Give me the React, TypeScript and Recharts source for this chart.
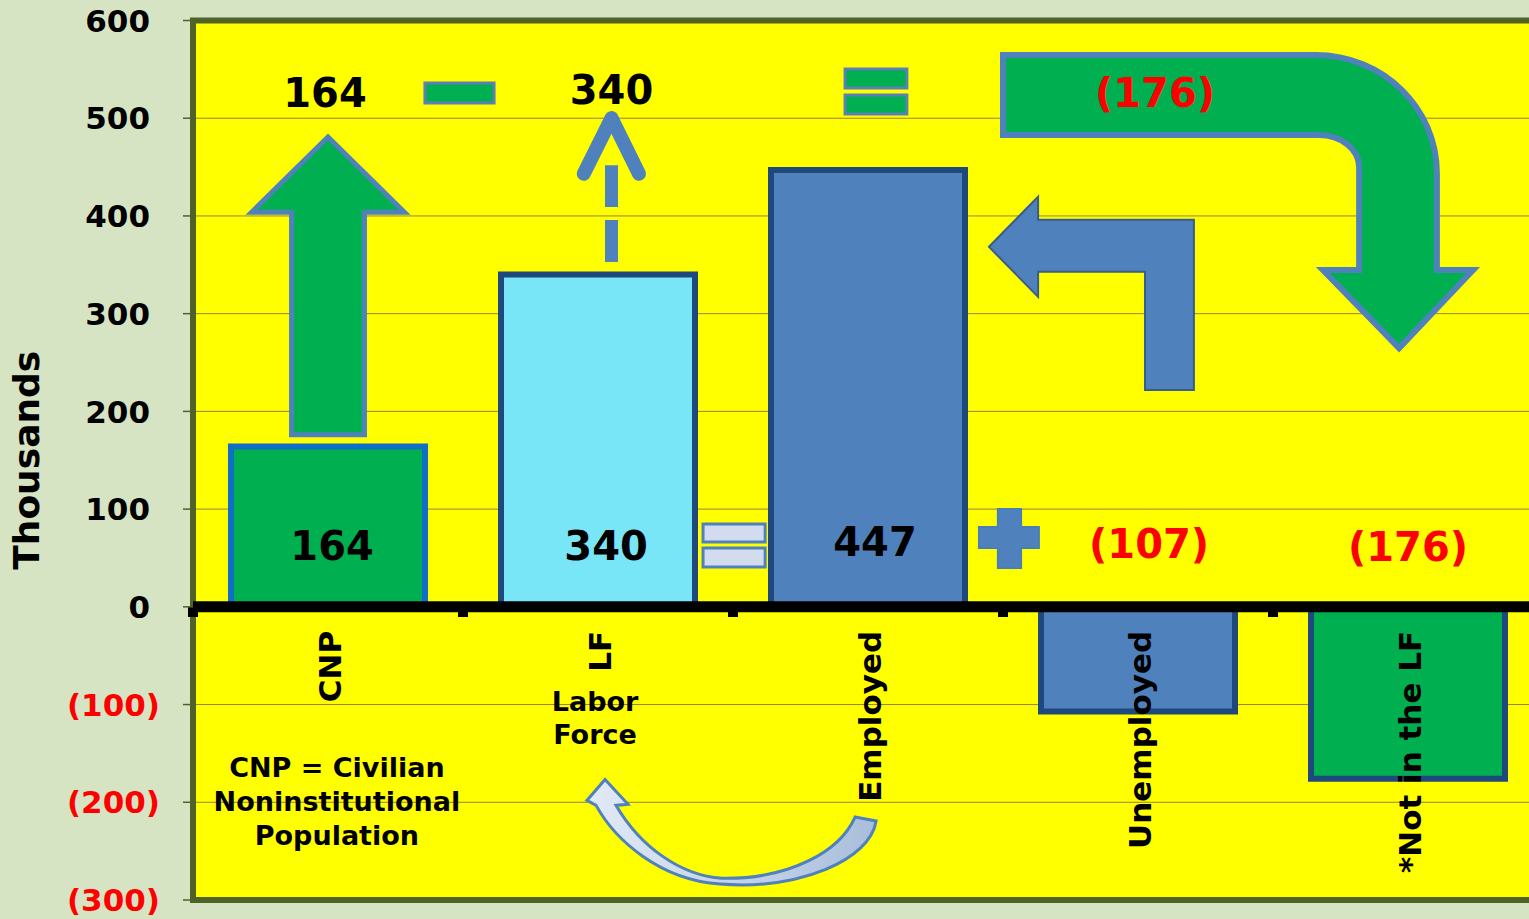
import React from 'react';
import {
  BarChart,
  Bar,
  Cell,
  XAxis,
  YAxis,
  CartesianGrid,
  ReferenceArea,
  ReferenceLine,
  ReferenceDot,
  Label,
} from 'recharts';

// ---------------- data ----------------
const categories = ['CNP', 'LF', 'Employed', 'Unemployed', '*Not in the LF'];
const values = [164, 340, 447, -107, -176];
const yTicks = [-300, -200, -100, 0, 100, 200, 300, 400, 500, 600];
const topRowIndex = [0, 1, 4]; // values repeated in the top "equation" row
const yAxisTitle = 'Thousands';
const lfNote = ['Labor', 'Force'];
const cnpNote = ['CNP = Civilian', 'Noninstitutional', 'Population'];

// ---------------- styles ----------------
const barFills = ['#00b050', '#78e6f6', '#4f81bd', '#4f81bd', '#00b050'];
const barStrokes = ['#0f6fc6', '#1f497d', '#1f497d', '#1f497d', '#1f497d'];
const FONT = '"DejaVu Sans", Verdana, sans-serif';
const GREEN = '#00b050';
const BLUE = '#4f81bd';

// pos = position of each category on a continuous 0..5 axis (band centres)
const data = categories.map((name, i) => ({ name, value: values[i], pos: i + 0.5 }));
const fmt = (v: number) => (v < 0 ? `(${-v})` : `${v}`);

// label placements in chart units (x: category index units, y: thousands)
const innerLabelPos: [number, number][] = [
  [0.515, 63],
  [1.53, 63],
  [2.526, 67],
  [3.541, 65],
  [4.5, 62],
];
const topLabelPos: [number, number][] = [
  [0.489, 526],
  [1.55, 529],
  [3.563, 526],
];

type Seg = (string | number)[];
type Part = { segs: Seg[]; style: any };
type Deco = { parts: Part[]; defs?: React.ReactNode };

// decorative shapes in chart units
const cnpArrow: Seg[] = [
  ['M', 0.5, 480.7],
  ['L', 0.783, 403.8],
  ['L', 0.635, 403.8],
  ['L', 0.635, 176],
  ['L', 0.365, 176],
  ['L', 0.365, 403.8],
  ['L', 0.217, 403.8],
  ['Z'],
];
const lfDashLine: Seg[] = [
  ['M', 1.55, 352.9],
  ['L', 1.55, 452],
];
const lfChevron: Seg[] = [
  ['M', 1.447, 443.1],
  ['L', 1.55, 500.1],
  ['L', 1.652, 443.1],
];
const greenBent: Seg[] = [
  ['M', 3.0, 564.7],
  ['L', 4.159, 564.7],
  ['C', 4.406, 564.7, 4.607, 510.6, 4.607, 443.9],
  ['L', 4.607, 344.6],
  ['L', 4.741, 344.6],
  ['L', 4.467, 264.8],
  ['L', 4.185, 344.6],
  ['L', 4.319, 344.6],
  ['L', 4.319, 450.0],
  ['C', 4.319, 468.1, 4.252, 482.8, 4.17, 482.8],
  ['L', 3.0, 482.8],
  ['Z'],
];
const blueBent: Seg[] = [
  ['M', 2.948, 368.4],
  ['L', 3.13, 419.6],
  ['L', 3.13, 396.0],
  ['L', 3.707, 396.0],
  ['L', 3.707, 222.0],
  ['L', 3.526, 222.0],
  ['L', 3.526, 342.8],
  ['L', 3.13, 342.8],
  ['L', 3.13, 317.2],
  ['Z'],
];
const plusSign: Seg[] = [
  ['M', 2.981, 100],
  ['L', 3.067, 100],
  ['L', 3.067, 81.7],
  ['L', 3.133, 81.7],
  ['L', 3.133, 60.2],
  ['L', 3.067, 60.2],
  ['L', 3.067, 39.7],
  ['L', 2.981, 39.7],
  ['L', 2.981, 60.2],
  ['L', 2.911, 60.2],
  ['L', 2.911, 81.7],
  ['L', 2.981, 81.7],
  ['Z'],
];
const curveArrow: Seg[] = [
  ['M', 2.452, -215.1],
  ['L', 2.53, -219.2],
  ['C', 2.507, -259.1, 2.248, -289.8, 1.952, -283.7],
  ['C', 1.73, -279.6, 1.563, -238.6, 1.493, -203.2],
  ['L', 1.459, -198.1],
  ['L', 1.526, -176.6],
  ['L', 1.611, -202.1],
  ['L', 1.567, -203.2],
  ['C', 1.656, -245.1, 1.804, -274.8, 1.959, -277.8],
  ['C', 2.211, -278.9, 2.396, -250.2, 2.452, -215.1],
  ['Z'],
];

const decos: Deco[] = [
  { parts: [{ segs: cnpArrow, style: { fill: GREEN, stroke: BLUE, strokeWidth: 5 } }] },
  {
    parts: [
      { segs: lfDashLine, style: { fill: 'none', stroke: BLUE, strokeWidth: 13, strokeDasharray: '42 13' } },
      {
        segs: lfChevron,
        style: { fill: 'none', stroke: BLUE, strokeWidth: 14, strokeLinecap: 'round', strokeLinejoin: 'round' },
      },
    ],
  },
  { parts: [{ segs: greenBent, style: { fill: GREEN, stroke: BLUE, strokeWidth: 6 } }] },
  { parts: [{ segs: blueBent, style: { fill: BLUE, stroke: '#385d8a', strokeWidth: 2 } }] },
  { parts: [{ segs: plusSign, style: { fill: BLUE, stroke: '#4a7ebb', strokeWidth: 2 } }] },
  {
    parts: [{ segs: curveArrow, style: { fill: 'url(#curveFill)', stroke: BLUE, strokeWidth: 3 } }],
    defs: (
      <defs>
        <linearGradient id="curveFill" x1="0" y1="0" x2="1" y2="0">
          <stop offset="0" stopColor="#e2eaf5" />
          <stop offset="1" stopColor="#a9bedb" />
        </linearGradient>
      </defs>
    ),
  },
];

// simple rectangles (minus / equals signs) in chart units: [x1, x2, y1, y2]
const rects: { box: [number, number, number, number]; fill: string; stroke: string }[] = [
  { box: [0.859, 1.115, 515.5, 536.0], fill: GREEN, stroke: '#5b7fb8' },
  { box: [2.415, 2.644, 530.9, 550.4], fill: GREEN, stroke: '#5b7fb8' },
  { box: [2.415, 2.644, 504.3, 523.8], fill: GREEN, stroke: '#5b7fb8' },
  { box: [1.889, 2.119, 66.3, 84.7], fill: '#d3dcee', stroke: BLUE },
  { box: [1.889, 2.119, 40.7, 60.2], fill: '#d3dcee', stroke: BLUE },
];

function boundsOf(parts: Part[]) {
  let minX = Infinity,
    maxX = -Infinity,
    minY = Infinity,
    maxY = -Infinity;
  parts.forEach((p) =>
    p.segs.forEach((s) => {
      for (let i = 1; i + 1 < s.length; i += 2) {
        const x = s[i] as number;
        const y = s[i + 1] as number;
        minX = Math.min(minX, x);
        maxX = Math.max(maxX, x);
        minY = Math.min(minY, y);
        maxY = Math.max(maxY, y);
      }
    })
  );
  return { minX, maxX, minY, maxY };
}

function renderDeco(deco: Deco, key: string) {
  const b = boundsOf(deco.parts);
  const shape = (p: any) => {
    const { x, y, width, height } = p;
    if (x == null || y == null || width == null || height == null) return <g />;
    const sx = (v: number) => x + (b.maxX === b.minX ? 0 : ((v - b.minX) / (b.maxX - b.minX)) * width);
    const sy = (v: number) => y + (b.maxY === b.minY ? 0 : ((b.maxY - v) / (b.maxY - b.minY)) * height);
    return (
      <g>
        {deco.defs}
        {deco.parts.map((part, k) => {
          const d = part.segs
            .map((s) => {
              let out = String(s[0]);
              for (let i = 1; i + 1 < s.length; i += 2) {
                out += ` ${sx(s[i] as number).toFixed(2)} ${sy(s[i + 1] as number).toFixed(2)}`;
              }
              return out;
            })
            .join(' ');
          return <path key={k} d={d} {...part.style} />;
        })}
      </g>
    );
  };
  return (
    <ReferenceArea
      key={key}
      xAxisId="num"
      x1={b.minX}
      x2={b.maxX}
      y1={b.minY}
      y2={b.maxY}
      ifOverflow="visible"
      shape={shape}
    />
  );
}

function textDot(
  key: string,
  x: number,
  y: number,
  render: (cx: number, cy: number) => React.ReactElement
) {
  return (
    <ReferenceDot
      key={key}
      xAxisId="num"
      x={x}
      y={y}
      r={1}
      ifOverflow="visible"
      shape={(p: any) => (p.cx == null ? <g /> : render(p.cx, p.cy))}
    />
  );
}

const YTick = (props: any) => {
  const { x, y, payload } = props;
  const v = payload.value as number;
  const neg = v < 0;
  return (
    <text
      x={neg ? x : x - 10}
      y={y}
      dy="0.36em"
      textAnchor="end"
      fill={neg ? '#ff0000' : '#000000'}
      fontFamily={FONT}
      fontWeight="bold"
      fontSize={31}
    >
      {fmt(v)}
    </text>
  );
};

const YTitle = (props: any) => {
  const vb = props.viewBox || {};
  const cx = (vb.x ?? 0) + 39;
  const cy = (vb.y ?? 20) + (vb.height ?? 880) / 2;
  return (
    <text
      transform={`translate(${cx},${cy}) rotate(-90)`}
      textAnchor="middle"
      fontFamily={FONT}
      fontWeight="bold"
      fontSize={36}
      fill="#000"
    >
      {yAxisTitle}
    </text>
  );
};

export default function App() {
  const bold = { fontFamily: FONT, fontWeight: 'bold' as const };
  return (
    <div
      style={{
        position: 'absolute',
        left: 0,
        top: 0,
        width: 1529,
        height: 919,
        overflow: 'hidden',
        background: '#d7e4c4',
      }}
    >
      <BarChart
        width={1560}
        height={919}
        data={data}
        margin={{ top: 20.5, right: 17, bottom: 19, left: 0 }}
      >
        <CartesianGrid
          xAxisId="cat"
          vertical={false}
          stroke="#9b7f3d"
          strokeWidth={1}
          fill="#ffff00"
          fillOpacity={1}
        />
        <XAxis xAxisId="cat" dataKey="name" hide />
        <XAxis
          xAxisId="num"
          dataKey="pos"
          type="number"
          domain={[0, 5]}
          hide
          allowDataOverflow
        />
        <YAxis
          width={193}
          domain={[-300, 600]}
          ticks={yTicks}
          interval={0}
          axisLine={false}
          tickLine={{ stroke: '#4f6228', strokeWidth: 1.5 }}
          tickSize={10}
          tickMargin={23}
          tick={<YTick />}
        >
          <Label content={<YTitle />} />
        </YAxis>

        <ReferenceArea
          xAxisId="num"
          x1={0}
          x2={5}
          y1={-300}
          y2={600}
          fill="none"
          stroke="#4f6228"
          strokeWidth={6}
          ifOverflow="visible"
        />

        <Bar xAxisId="cat" dataKey="value" barSize={194} strokeWidth={6} isAnimationActive={false}>
          {data.map((d, i) => (
            <Cell key={d.name} fill={barFills[i]} stroke={barStrokes[i]} />
          ))}
        </Bar>

        <ReferenceLine xAxisId="num" y={0} stroke="#000" strokeWidth={11} ifOverflow="visible" />
        {[0, 1, 2, 3, 4].map((i) => (
          <ReferenceLine
            key={`tk${i}`}
            xAxisId="num"
            segment={[
              { x: i, y: 0 },
              { x: i, y: -10.4 },
            ]}
            stroke="#000"
            strokeWidth={10}
            ifOverflow="visible"
          />
        ))}

        {rects.map((r, i) => (
          <ReferenceArea
            key={`r${i}`}
            xAxisId="num"
            x1={r.box[0]}
            x2={r.box[1]}
            y1={r.box[2]}
            y2={r.box[3]}
            fill={r.fill}
            fillOpacity={1}
            stroke={r.stroke}
            strokeWidth={3}
            ifOverflow="visible"
          />
        ))}

        {decos.map((d, i) => renderDeco(d, `d${i}`))}

        {/* category labels */}
        {categories.map((c, i) =>
          textDot(`c${i}`, i + 0.5, 0, (cx, cy) => (
            <text
              transform={`translate(${cx + 13},${cy + 24}) rotate(-90)`}
              textAnchor="end"
              fontSize={31}
              fill="#000"
              {...bold}
            >
              {c}
            </text>
          ))
        )}

        {/* value labels inside / beside bars */}
        {values.map((v, i) =>
          textDot(`v${i}`, innerLabelPos[i][0], innerLabelPos[i][1], (cx, cy) => (
            <text
              x={cx}
              y={cy}
              dy="0.36em"
              textAnchor="middle"
              fontSize={40}
              fill={v < 0 ? '#ff0000' : '#000'}
              {...bold}
            >
              {fmt(v)}
            </text>
          ))
        )}

        {/* top equation row */}
        {topRowIndex.map((vi, k) =>
          textDot(`t${k}`, topLabelPos[k][0], topLabelPos[k][1], (cx, cy) => (
            <text
              x={cx}
              y={cy}
              dy="0.36em"
              textAnchor="middle"
              fontSize={40}
              fill={values[vi] < 0 ? '#ff0000' : '#000'}
              {...bold}
            >
              {fmt(values[vi])}
            </text>
          ))
        )}

        {/* notes */}
        {lfNote.map((line, k) =>
          textDot(`lf${k}`, 1.489, [-96.4, -130.2][k], (cx, cy) => (
            <text x={cx} y={cy} dy="0.36em" textAnchor="middle" fontSize={27} fill="#000" {...bold}>
              {line}
            </text>
          ))
        )}
        {cnpNote.map((line, k) =>
          textDot(`cn${k}`, 0.533, [-163.9, -198.7, -233.5][k], (cx, cy) => (
            <text x={cx} y={cy} dy="0.36em" textAnchor="middle" fontSize={27} fill="#000" {...bold}>
              {line}
            </text>
          ))
        )}
      </BarChart>
    </div>
  );
}
